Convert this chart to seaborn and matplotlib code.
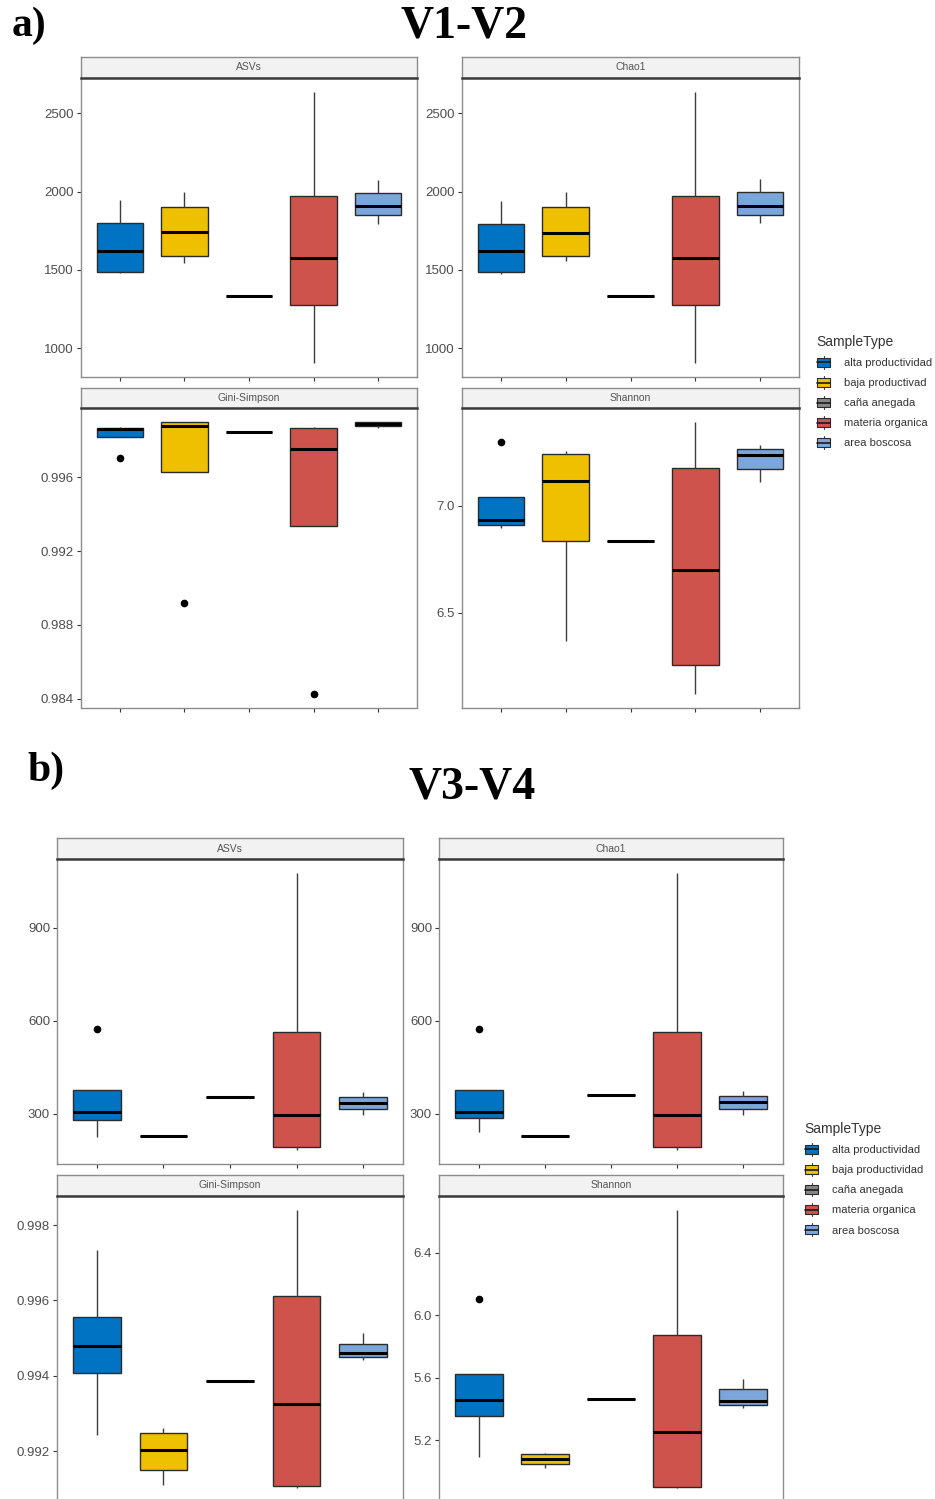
import matplotlib
matplotlib.use("Agg")
import matplotlib.pyplot as plt
from matplotlib.patches import Rectangle, Patch
from matplotlib.lines import Line2D
from matplotlib.legend_handler import HandlerBase
import seaborn as sns
import pandas as pd

sns.set_theme(style="white")
plt.rcParams["font.family"] = ["Liberation Sans", "DejaVu Sans"]

# ---------------------------------------------------------------- data
palette = ["#0073C2", "#EFC000", "#868686", "#CD534C", "#7AA6DC"]
types_v12 = ["alta productividad", "baja productivad", "caña anegada",
             "materia organica", "area boscosa"]
types_v34 = ["alta productividad", "baja productividad", "caña anegada",
             "materia organica", "area boscosa"]
metrics = ["ASVs", "Chao1", "Gini-Simpson", "Shannon"]

# V1-V2: per-sample alpha diversity, one list per sample type
v12_asvs = [[1480, 1486, 1620, 1800, 1945], [1546, 1591, 1742, 1902, 1994],
            [1332], [903, 1279, 1578, 1971, 2638], [1796, 1849, 1905, 1988, 2071]]
v12_chao1 = [[1476, 1486, 1618, 1796, 1940], [1556, 1591, 1738, 1902, 1994],
             [1332], [903, 1275, 1574, 1969, 2638], [1800, 1851, 1907, 1994, 2079]]
v12_gini = [[0.99705, 0.99816, 0.99862, 0.99870, 0.99875],
            [0.98921, 0.99627, 0.99879, 0.99901, 0.99902],
            [0.99847],
            [0.98426, 0.99334, 0.99752, 0.99870, 0.99874],
            [0.99870, 0.99879, 0.99890, 0.99899, 0.99902]]
v12_shannon = [[6.898, 6.910, 6.934, 7.041, 7.299], [6.367, 6.836, 7.116, 7.239, 7.255],
               [6.836], [6.122, 6.255, 6.701, 7.177, 7.392], [7.111, 7.172, 7.238, 7.263, 7.283]]

# V3-V4: per-sample alpha diversity, one list per sample type
v34_asvs = [[224, 280, 305, 376, 572], [225, 227, 229, 230, 231], [355],
            [183, 194, 295, 563, 1076], [296, 314, 335, 355, 371]]
v34_chao1 = [[242, 286, 305, 376, 572], [225, 227, 229, 230, 231], [359],
             [183, 194, 295, 563, 1076], [297, 315, 337, 356, 372]]
v34_gini = [[0.99243, 0.99408, 0.99479, 0.99556, 0.99733],
            [0.99112, 0.99150, 0.99204, 0.99248, 0.99263],
            [0.99387],
            [0.99103, 0.99109, 0.99325, 0.99613, 0.99840],
            [0.99442, 0.99449, 0.99460, 0.99486, 0.99513]]
v34_shannon = [[5.096, 5.356, 5.458, 5.624, 6.105], [5.022, 5.052, 5.084, 5.111, 5.117],
               [5.462], [4.895, 4.905, 5.256, 5.877, 6.675], [5.405, 5.424, 5.451, 5.526, 5.596]]

ticks_v12 = [[1000, 1500, 2000, 2500], [1000, 1500, 2000, 2500],
             [0.984, 0.988, 0.992, 0.996], [6.5, 7.0]]
ticks_v34 = [[300, 600, 900], [300, 600, 900],
             [0.992, 0.994, 0.996, 0.998], [5.2, 5.6, 6.0, 6.4]]
tick_fmt = ["{:.0f}", "{:.0f}", "{:.3f}", "{:.1f}"]

# ---------------------------------------------------------------- figure
W, H = 935, 1499
fig = plt.figure(figsize=(W / 100, H / 100), dpi=100)
fig.patch.set_facecolor("white")

BORDER = "#8c8c8c"


def px_axes(left, top, right, bottom):
    return fig.add_axes([left / W, 1 - bottom / H, (right - left) / W, (bottom - top) / H])


def long_frame(types, groups):
    rows = [(t, v) for t, vals in zip(types, groups) for v in vals]
    return pd.DataFrame(rows, columns=["SampleType", "value"])


def facet(box, strip_top, title, types, groups, ticks, fmt):
    left, top, right, bottom = box
    # facet strip
    sax = px_axes(left, strip_top, right, top)
    sax.set_facecolor("#F2F2F2")
    sax.set_xticks([]); sax.set_yticks([])
    for s in sax.spines.values():
        s.set_color(BORDER); s.set_linewidth(1.0)
    sax.text(0.5, 0.5, title, ha="center", va="center", fontsize=7.5,
             color="#555555", transform=sax.transAxes)

    ax = px_axes(left, top, right, bottom)
    df = long_frame(types, groups)
    sns.boxplot(data=df, x="SampleType", y="value", hue="SampleType",
                order=types, hue_order=types, palette=palette, saturation=1,
                width=0.72, linewidth=1.0, linecolor="#2b2b2b", showcaps=False,
                fliersize=4.5,
                flierprops=dict(marker="o", markerfacecolor="black",
                                markeredgecolor="black"),
                medianprops=dict(color="black", linewidth=2.2),
                whiskerprops=dict(color="#3d3d3d", linewidth=1.0),
                legend=False, ax=ax)
    allv = [v for g in groups for v in g]
    lo, hi = min(allv), max(allv)
    pad = 0.05 * (hi - lo)
    ax.set_ylim(lo - pad, hi + pad)
    ax.set_xlim(-0.6, len(types) - 0.4)
    ax.set_xlabel(""); ax.set_ylabel("")
    ax.set_xticks(range(len(types)))
    ax.set_xticklabels([])
    ax.set_yticks(ticks)
    ax.set_yticklabels([fmt.format(t) for t in ticks])
    ax.tick_params(axis="both", direction="out", length=3, width=0.8,
                   color="#333333", labelsize=9.5, labelcolor="#4d4d4d", pad=2,
                   left=True, bottom=True)
    for s in ax.spines.values():
        s.set_color(BORDER); s.set_linewidth(1.0)
    ax.spines["top"].set_color("#3a3a3a")
    ax.spines["top"].set_linewidth(1.8)
    ax.set_facecolor("white")
    return ax


class BoxKey(HandlerBase):
    """Legend key drawn as a small boxplot glyph."""

    def create_artists(self, legend, orig_handle, xdescent, ydescent,
                       width, height, fontsize, trans):
        x0, y0 = -xdescent, -ydescent
        fc = orig_handle.get_facecolor()
        cx = x0 + width / 2
        box = Rectangle((x0 + 0.04 * width, y0 + 0.16 * height), 0.92 * width,
                        0.68 * height, facecolor=fc, edgecolor="#2b2b2b",
                        linewidth=0.8, transform=trans)
        med = Line2D([x0 + 0.04 * width, x0 + 0.96 * width],
                     [y0 + 0.5 * height] * 2, color="#1a1a1a", lw=1.2, transform=trans)
        w1 = Line2D([cx, cx], [y0, y0 + 0.16 * height], color="#3d3d3d", lw=0.8, transform=trans)
        w2 = Line2D([cx, cx], [y0 + 0.84 * height, y0 + height], color="#3d3d3d", lw=0.8, transform=trans)
        return [w1, w2, box, med]


def legend(types, x, y):
    handles = [Patch(facecolor=c) for c in palette]
    leg = fig.legend(handles, types, handler_map={Patch: BoxKey()},
                     loc="upper left", bbox_to_anchor=(x / W, 1 - y / H),
                     frameon=False, fontsize=8, title="SampleType",
                     title_fontsize=10, handlelength=1.35, handleheight=1.45,
                     handletextpad=1.15, labelspacing=0.62, borderpad=0,
                     borderaxespad=0)
    leg._legend_box.align = "left"
    for t in leg.get_texts():
        t.set_color("#333333")
    leg.get_title().set_color("#333333")


def panel(types, datasets, ticks, cols, rows, strips):
    for i, (m, groups, tk, fmt) in enumerate(zip(metrics, datasets, ticks, tick_fmt)):
        r, c = divmod(i, 2)
        facet((cols[c][0], rows[r][0], cols[c][1], rows[r][1]), strips[r], m,
              types, groups, tk, fmt)


serif = dict(family=["Liberation Serif", "DejaVu Serif"], weight="bold",
             color="black", va="baseline")

# a) V1-V2
fig.text(12 / W, 1 - 36 / H, "a)", ha="left", fontsize=30, **serif)
fig.text(464 / W, 1 - 38 / H, "V1-V2", ha="center", fontsize=33, **serif)
panel(types_v12, [v12_asvs, v12_chao1, v12_gini, v12_shannon], ticks_v12,
      cols=[(81, 417), (462, 799)], rows=[(78, 377), (408, 707.5)], strips=[57, 388])
legend(types_v12, 816, 335)

# b) V3-V4
fig.text(27 / W, 1 - 781 / H, "b)", ha="left", fontsize=30, **serif)
fig.text(472 / W, 1 - 798 / H, "V3-V4", ha="center", fontsize=33, **serif)
panel(types_v34, [v34_asvs, v34_chao1, v34_gini, v34_shannon], ticks_v34,
      cols=[(57, 403), (439, 783)], rows=[(859, 1164), (1196, 1502)], strips=[838, 1175])
legend(types_v34, 804, 1122)

fig.savefig("out.png", dpi=100, facecolor="white")
